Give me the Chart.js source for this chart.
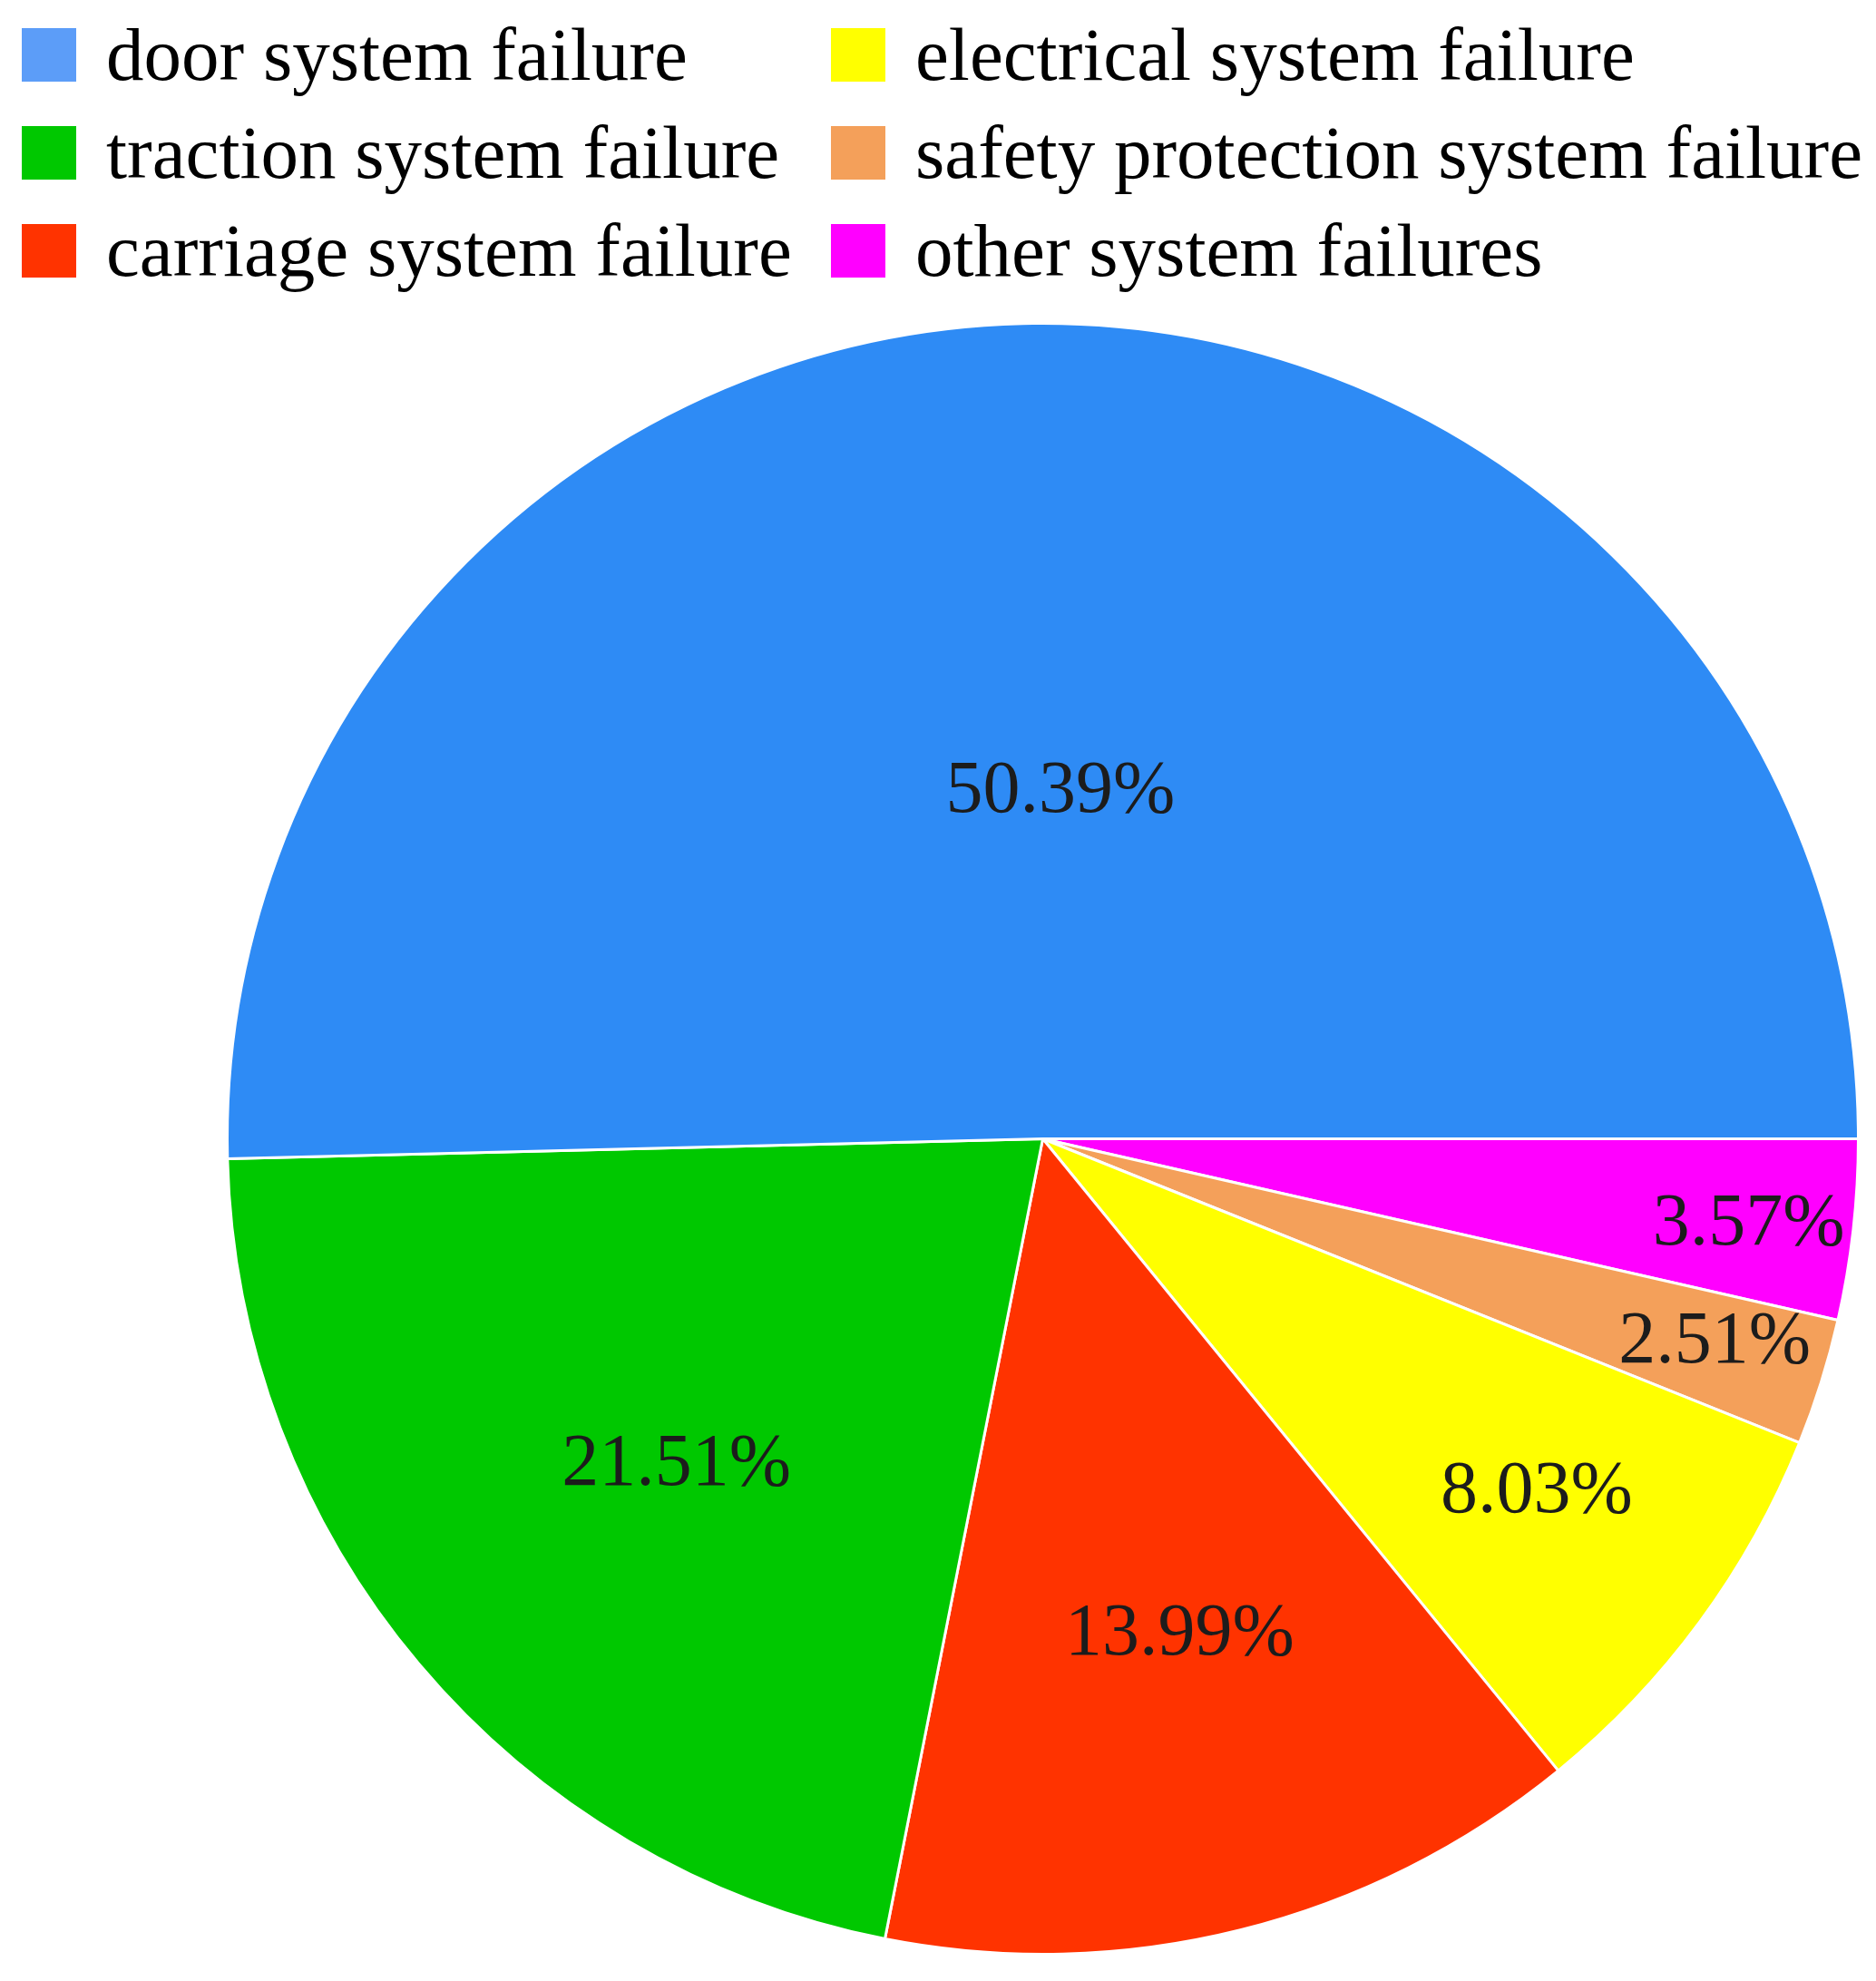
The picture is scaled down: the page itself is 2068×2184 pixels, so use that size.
<!DOCTYPE html>
<html>
<head>
<meta charset="utf-8">
<script src="https://cdn.jsdelivr.net/npm/chart.js@4.4.1/dist/chart.umd.min.js"></script>
<style>
  html, body { margin: 0; padding: 0; background: #fff; }
  #wrap { position: relative; width: 2068px; height: 2184px; }
  #pie { position: absolute; left: 0; top: 0; }
  #legend {
    position: absolute; left: 24px; top: 6px;
    display: grid; grid-template-columns: 892px auto; grid-auto-flow: column;
    grid-template-rows: repeat(3, 108px);
    font-family: "Liberation Serif", "Times New Roman", serif; font-size: 83px; color: #000;
  }
  .item { display: flex; align-items: center; white-space: nowrap; }
  .box { width: 60px; height: 59px; margin-right: 33px; flex: none; }
</style>
</head>
<body>
<div id="wrap">
  <canvas id="pie" width="2068" height="2184"></canvas>
  <div id="legend"></div>
</div>
<script>
// failure categories, in legend order (column-wise)
const categories = [
  'door system failure',
  'traction system failure',
  'carriage system failure',
  'electrical system failure',
  'safety protection system failure',
  'other system failures',
];
const shares = [50.39, 21.51, 13.99, 8.03, 2.51, 3.57];
const sliceColors = ['#2e8bf5', '#00c800', '#ff3300', '#ffff00', '#f4a05a', '#ff00ff'];
const legendColors = ['#5c9df8', '#00c800', '#ff3300', '#ffff00', '#f4a05a', '#ff00ff'];

// build the html legend (two columns of three)
const legendEl = document.getElementById('legend');
categories.forEach((name, i) => {
  const item = document.createElement('div');
  item.className = 'item';
  const box = document.createElement('span');
  box.className = 'box';
  box.style.background = legendColors[i];
  const txt = document.createElement('span');
  txt.textContent = name;
  item.appendChild(box);
  item.appendChild(txt);
  legendEl.appendChild(item);
});

// the reference runs counter-clockwise from 3 o'clock; Chart.js goes clockwise,
// so feed the slices in reverse and start at 90 degrees
const order = shares.map((_, i) => i).reverse();

// where each percentage sits: fraction of radius, and a small angle nudge (deg)
const labelRadius = [0.426, 0.602, 0.631, 0.745, 0.861, 0.872];
const labelNudge = [3.6, -1.6, -1.4, -0.7, -0.5, 0.5];

const pctLabels = {
  id: 'pctLabels',
  afterDatasetsDraw(chart) {
    const { ctx } = chart;
    const meta = chart.getDatasetMeta(0);
    ctx.save();
    ctx.font = '82px "Liberation Serif", "Times New Roman", serif';
    ctx.fillStyle = '#1c1c1c';
    ctx.textAlign = 'center';
    ctx.textBaseline = 'middle';
    meta.data.forEach((arc, j) => {
      const idx = order[j];
      const { x, y, startAngle, endAngle, outerRadius } =
        arc.getProps(['x', 'y', 'startAngle', 'endAngle', 'outerRadius'], true);
      const mid = (startAngle + endAngle) / 2 + labelNudge[idx] * Math.PI / 180;
      const r = outerRadius * labelRadius[idx];
      ctx.fillText(shares[idx].toFixed(2) + '%', x + Math.cos(mid) * r, y + Math.sin(mid) * r);
    });
    ctx.restore();
  },
};

new Chart(document.getElementById('pie'), {
  type: 'pie',
  data: {
    labels: order.map(i => categories[i]),
    datasets: [{
      data: order.map(i => shares[i]),
      backgroundColor: order.map(i => sliceColors[i]),
      borderColor: '#ffffff',
      borderWidth: 3,
    }],
  },
  options: {
    responsive: false,
    animation: false,
    rotation: 90,
    layout: { padding: { left: 248, top: 355, right: 17, bottom: 28 } },
    plugins: {
      legend: { display: false },
      tooltip: { enabled: false },
    },
  },
  plugins: [pctLabels],
});
</script>
</body>
</html>
